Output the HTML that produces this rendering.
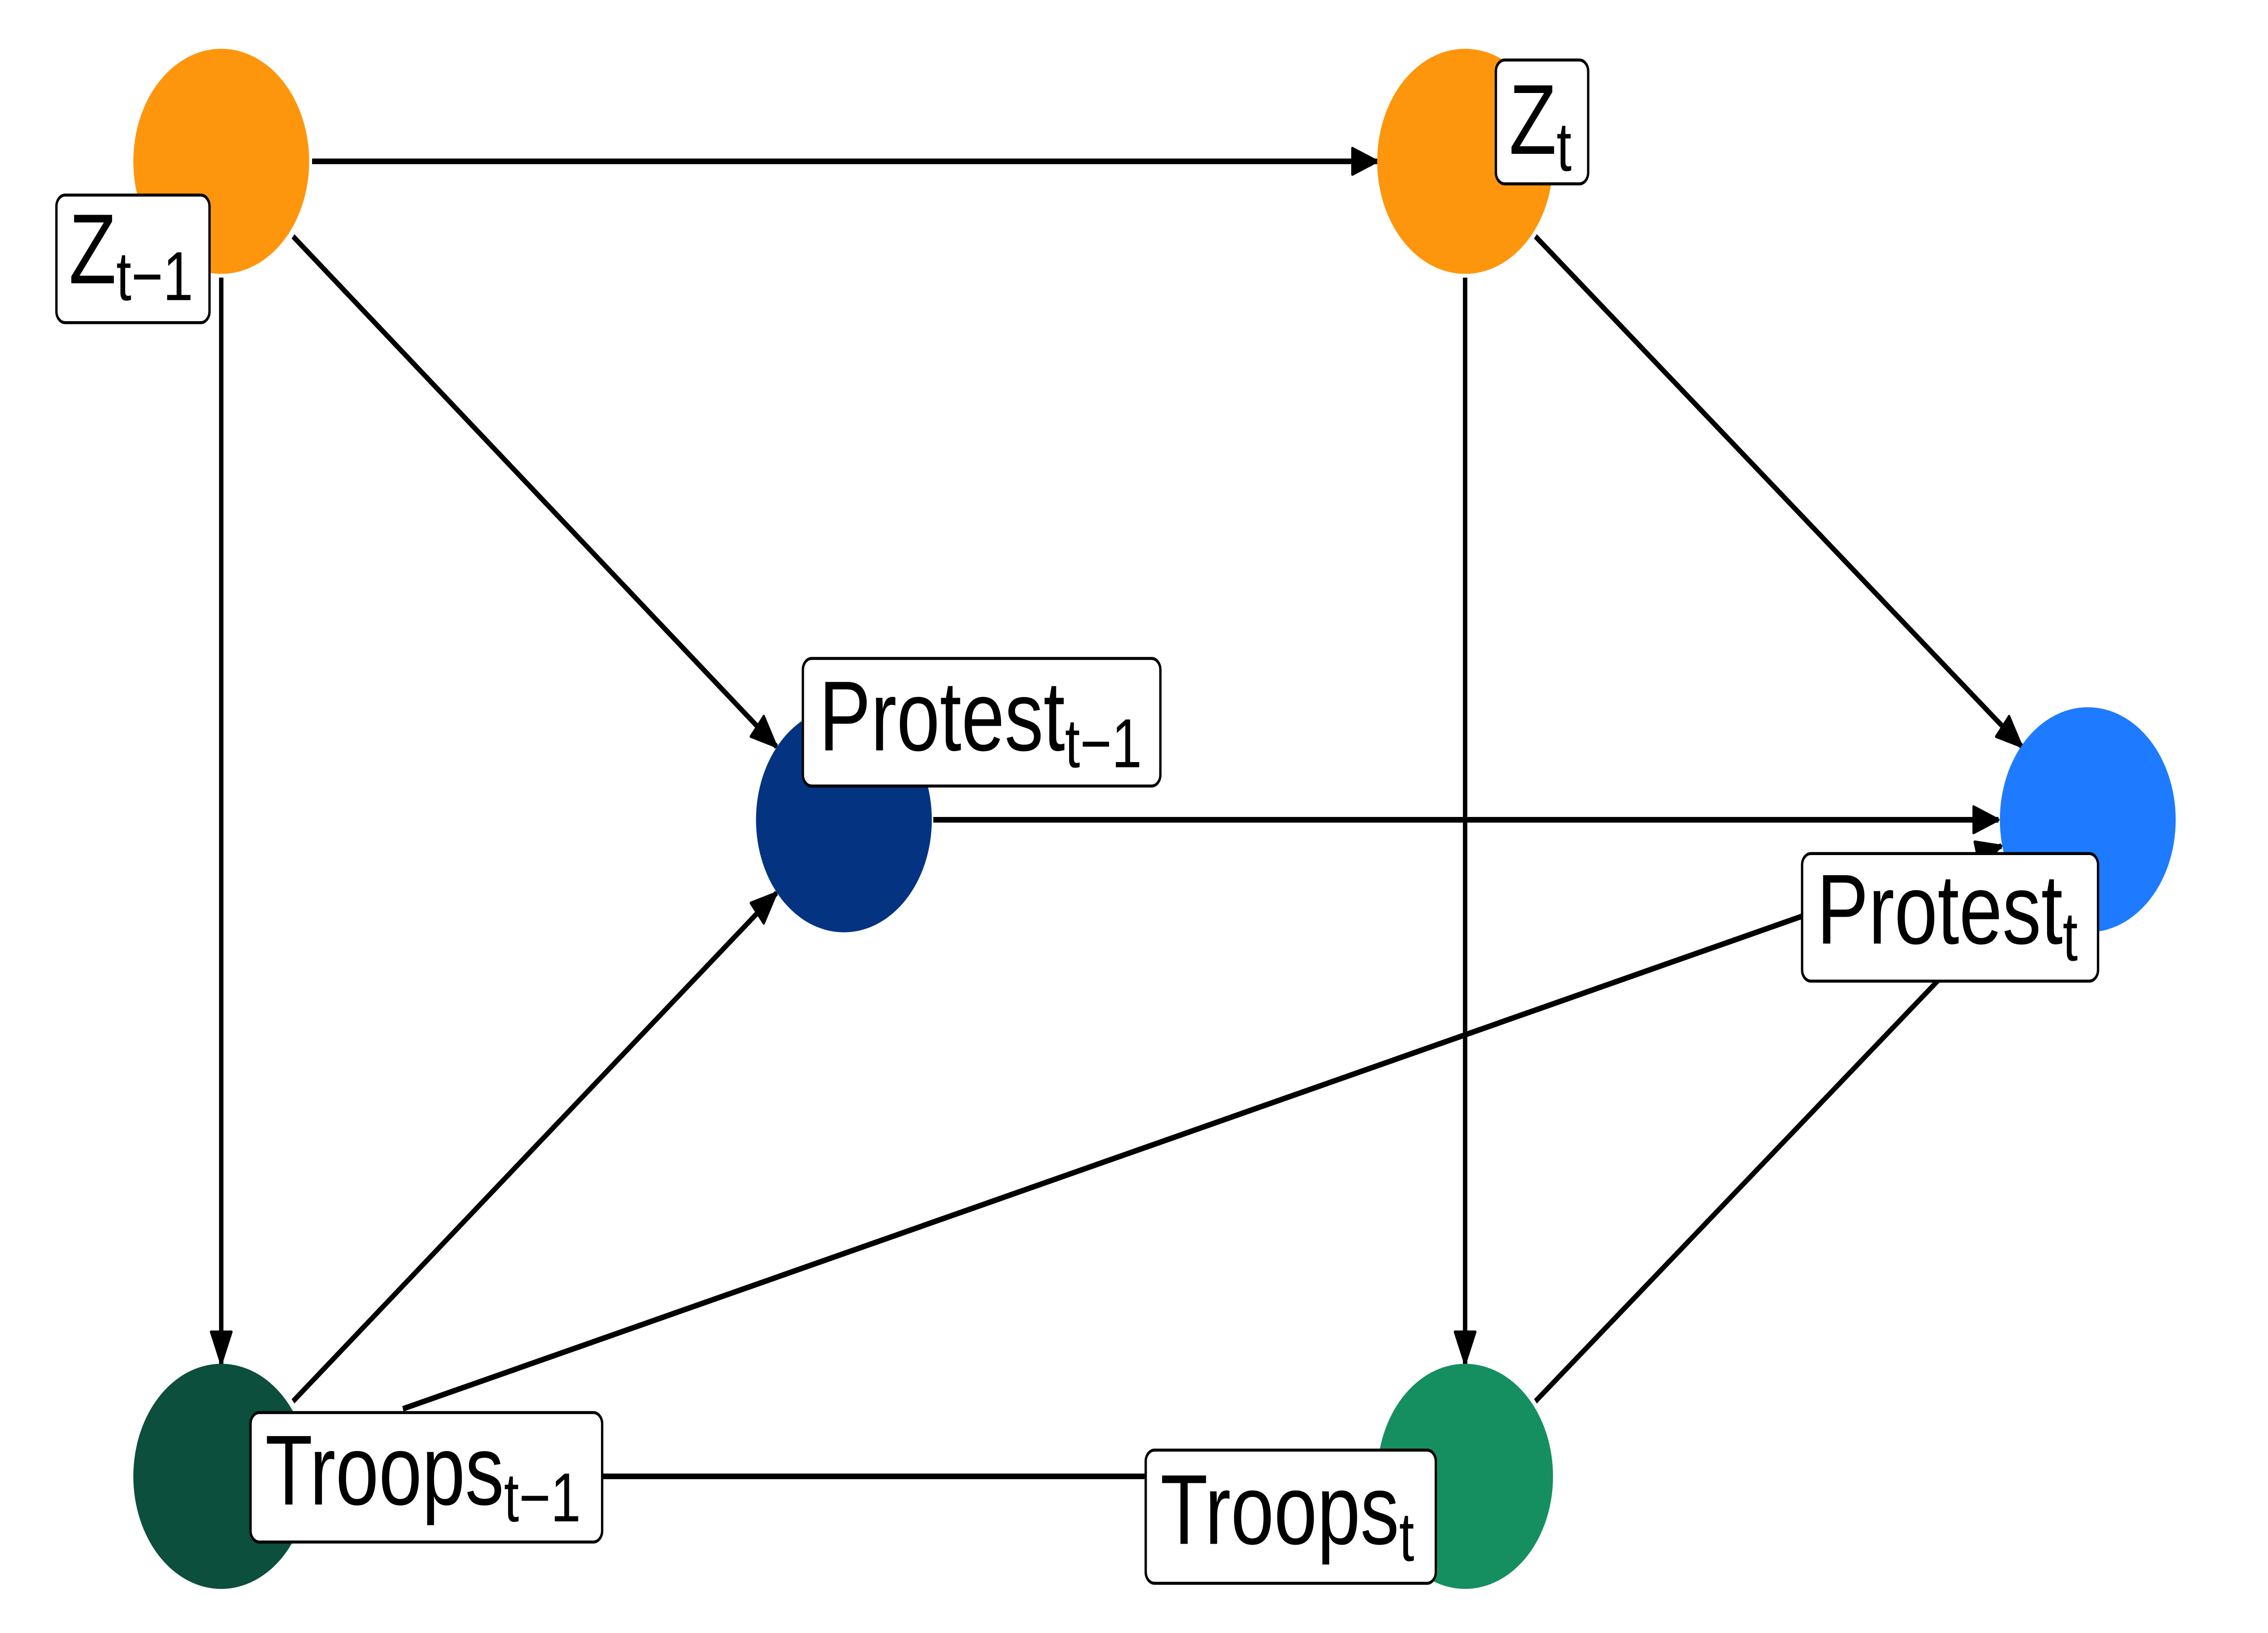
<!DOCTYPE html>
<html><head><meta charset="utf-8"><style>
html,body{margin:0;padding:0;background:#fff;width:100%;height:100%;overflow:hidden}
svg{display:block;width:100vw;height:100vh;position:absolute;left:0;top:0}
text{font-family:"Liberation Sans",Arial,sans-serif;fill:#000}
</style></head><body>
<svg viewBox="0 0 1548 870.5" preserveAspectRatio="none" xmlns="http://www.w3.org/2000/svg">
<defs>
<marker id="a" markerUnits="userSpaceOnUse" markerWidth="20" markerHeight="16" refX="18" refY="8" orient="auto">
<path d="M1,1 L18,8 L1,15 Z" fill="#000" stroke="#000" stroke-width="1.5" stroke-linejoin="round"/>
</marker>
</defs>
<g stroke="#000" stroke-width="3" fill="none">
<line x1="213" y1="86" x2="940" y2="86" marker-end="url(#a)"/>
<line x1="200" y1="126" x2="530" y2="398" marker-end="url(#a)"/>
<line x1="151" y1="148" x2="151" y2="727" marker-end="url(#a)"/>
<line x1="1048" y1="126" x2="1380" y2="398" marker-end="url(#a)"/>
<line x1="1000" y1="148" x2="1000" y2="727" marker-end="url(#a)"/>
<line x1="637" y1="437" x2="1364" y2="437" marker-end="url(#a)"/>
<line x1="200" y1="747" x2="530" y2="476" marker-end="url(#a)"/>
<line x1="275" y1="751" x2="1366" y2="451" marker-end="url(#a)"/>
<line x1="213" y1="787" x2="940" y2="787" marker-end="url(#a)"/>
<line x1="1048" y1="747" x2="1380" y2="476" marker-end="url(#a)"/>
</g>
<g>
<circle cx="151" cy="86" r="60" fill="#FE960D"/>
<circle cx="1000" cy="86" r="60" fill="#FE960D"/>
<circle cx="576" cy="437" r="60" fill="#043382"/>
<circle cx="1425" cy="437" r="60" fill="#1E7BFF"/>
<circle cx="151" cy="787" r="60" fill="#0B4F3C"/>
<circle cx="1000" cy="787" r="60" fill="#168F60"/>
</g>
<g fill="#fff" stroke="#000" stroke-width="1.6">
<rect x="38.5" y="104" width="104.5" height="68" rx="6"/>
<rect x="1021" y="32" width="63" height="66" rx="6"/>
<rect x="548" y="351" width="244" height="68" rx="6"/>
<rect x="1230" y="455" width="202" height="68" rx="6"/>
<rect x="171" y="753" width="240" height="69" rx="6"/>
<rect x="782" y="773" width="198" height="71" rx="6"/>
</g>
<g font-size="53">
<text x="47" y="151">Z<tspan font-size="37" dy="9">t−1</tspan></text>
<text x="1030" y="82">Z<tspan font-size="37" dy="9">t</tspan></text>
<text x="559" y="400">Protest<tspan font-size="37" dy="9">t−1</tspan></text>
<text x="1240" y="503">Protest<tspan font-size="37" dy="9">t</tspan></text>
<text x="181" y="802">Troops<tspan font-size="37" dy="9">t−1</tspan></text>
<text x="792" y="823">Troops<tspan font-size="37" dy="9">t</tspan></text>
</g>
</svg>
</body></html>
